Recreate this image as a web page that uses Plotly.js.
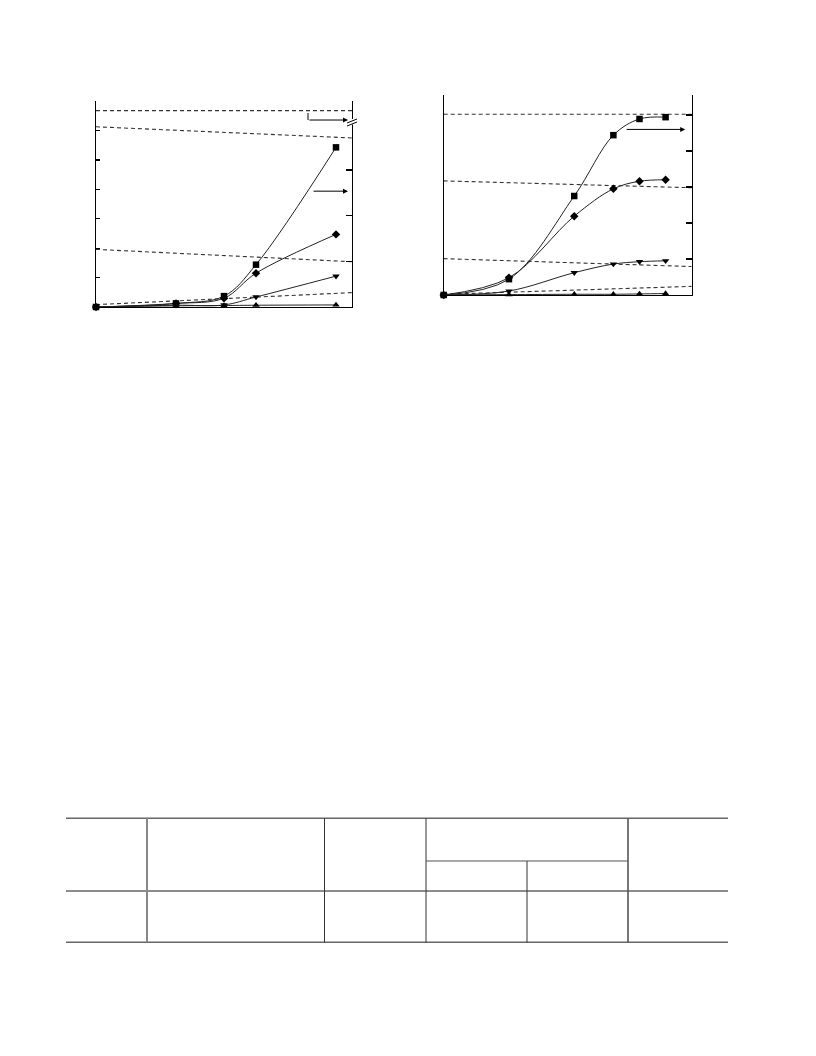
<!DOCTYPE html>
<html>
<head>
<meta charset="utf-8">
<script src="https://cdn.plot.ly/plotly-3.0.1.min.js"></script>
<style>html,body{margin:0;padding:0;background:#fff;}#chart{width:816px;height:1056px;}</style>
</head>
<body>
<div id="chart"></div>
<script>
// ---------- Panel 1 data ----------
var p1X = [0, 5, 8, 10, 15];
var p1Square = [0, 0.12, 0.37, 1.44, 5.43];
var p1Diamond = [0, 0.12, 0.30, 1.15, 2.47];
var p1TriDown = [0, 0.06, 0.07, 0.34, 1.05];
var p1TriUp = [0, 0.04, 0.05, 0.06, 0.07];
var p1DashX = [0, 16];
var p1DashA = [6.68, 6.68];
var p1DashB = [6.13, 5.75];
var p1DashC = [1.96, 1.54];
var p1DashD = [0.08, 0.49];

// ---------- Panel 2 data ----------
var p2X = [0, 5, 10, 13, 15, 17];
var p2Square = [0, 0.44, 2.75, 4.44, 4.89, 4.94];
var p2Diamond = [0, 0.48, 2.19, 2.95, 3.16, 3.20];
var p2TriDown = [0, 0.11, 0.62, 0.86, 0.925, 0.95];
var p2TriUp = [0, 0.01, 0.02, 0.02, 0.03, 0.04];
var p2DashX = [0, 19];
var p2DashA = [5.02, 5.02];
var p2DashB = [3.17, 2.98];
var p2DashC = [1.01, 0.79];
var p2DashD = [0.02, 0.24];

var W = 816, H = 1056;
function px(x){return x/W;}
function py(y){return 1 - y/H;}

var traces = [];
function series(x, y, sym, xa, ya){
  traces.push({x:x, y:y, xaxis:xa, yaxis:ya, type:'scatter', mode:'lines+markers',
    line:{color:'#222', width:1, shape:'spline', smoothing:1},
    marker:{symbol:sym, color:'#000', size:6.5}, showlegend:false, hoverinfo:'skip', cliponaxis:false});
}
function dash(x, y, xa, ya){
  traces.push({x:x, y:y, xaxis:xa, yaxis:ya, type:'scatter', mode:'lines',
    line:{color:'#333', width:1.1, dash:'4px,3px'}, showlegend:false, hoverinfo:'skip'});
}
dash(p1DashX, p1DashA, 'x', 'y');
dash(p1DashX, p1DashB, 'x', 'y');
dash(p1DashX, p1DashC, 'x', 'y');
dash(p1DashX, p1DashD, 'x', 'y');
series(p1X, p1Square, 'square', 'x', 'y');
series(p1X, p1Diamond, 'diamond', 'x', 'y');
series(p1X, p1TriDown, 'triangle-down', 'x', 'y');
series(p1X, p1TriUp, 'triangle-up', 'x', 'y');

dash(p2DashX, p2DashA, 'x3', 'y3');
dash(p2DashX, p2DashB, 'x3', 'y3');
dash(p2DashX, p2DashC, 'x3', 'y3');
dash(p2DashX, p2DashD, 'x3', 'y3');
series(p2X, p2Square, 'square', 'x3', 'y3');
series(p2X, p2Diamond, 'diamond', 'x3', 'y3');
series(p2X, p2TriDown, 'triangle-down', 'x3', 'y3');
series(p2X, p2TriUp, 'triangle-up', 'x3', 'y3');
// dummy traces so right axes render
traces.push({x:[0], y:[0], xaxis:'x', yaxis:'y2', mode:'markers', marker:{opacity:0}, showlegend:false, hoverinfo:'skip'});
traces.push({x:[0], y:[0], xaxis:'x3', yaxis:'y4', mode:'markers', marker:{opacity:0}, showlegend:false, hoverinfo:'skip'});

var axBase = {showgrid:false, zeroline:false, showticklabels:false, linecolor:'#000', linewidth:1.2, fixedrange:true};

var layout = {
  width:W, height:H, margin:{l:0, r:0, t:0, b:0},
  paper_bgcolor:'#fff', plot_bgcolor:'rgba(0,0,0,0)',
  xaxis: Object.assign({}, axBase, {domain:[px(96), px(352)], range:[0,16], showline:true, ticks:'', anchor:'y'}),
  yaxis: Object.assign({}, axBase, {domain:[py(307), py(101)], range:[0, 7.007], showline:true, ticks:'inside', ticklen:4, tickcolor:'#000', tickwidth:1.2, tickvals:[0,1,2,3,4,5,6,7], anchor:'x'}),
  yaxis2: Object.assign({}, axBase, {domain:[py(307), py(101)], range:[0, 4.51], overlaying:'y', side:'right', anchor:'x', showline:true, ticks:'inside', ticklen:6, tickcolor:'#000', tickwidth:1.2, tickvals:[1,2,3]}),
  xaxis3: Object.assign({}, axBase, {domain:[px(443.7), px(691.7)], range:[0,19], showline:true, ticks:'', anchor:'y3'}),
  yaxis3: Object.assign({}, axBase, {domain:[py(295), py(95)], range:[0, 5.556], showline:true, ticks:'', anchor:'x3'}),
  yaxis4: Object.assign({}, axBase, {domain:[py(295), py(95)], range:[0, 5.556], overlaying:'y3', side:'right', anchor:'x3', showline:true, ticks:'inside', ticklen:6, tickcolor:'#000', tickwidth:1.2, tickvals:[1,2,3,4,5]}),
  annotations: [
    {x:15.75, y:6.36, ax:13.25, ay:6.36, xref:'x', yref:'y', axref:'x', ayref:'y', showarrow:true, arrowhead:2, arrowsize:1, arrowwidth:1, arrowcolor:'#000', text:''},
    {x:15.75, y:3.94, ax:13.5, ay:3.94, xref:'x', yref:'y', axref:'x', ayref:'y', showarrow:true, arrowhead:2, arrowsize:1, arrowwidth:1, arrowcolor:'#000', text:''},
    {x:18.5, y:4.6, ax:13.9, ay:4.6, xref:'x3', yref:'y3', axref:'x3', ayref:'y3', showarrow:true, arrowhead:2, arrowsize:1, arrowwidth:1, arrowcolor:'#000', text:''}
  ],
  shapes: []
};

var S = layout.shapes;
// elbow of arrow in panel 1
S.push({type:'line', xref:'x', yref:'y', x0:13.25, x1:13.25, y0:6.6, y1:6.36, line:{color:'#000', width:1}});
// axis break on right axis of panel 1
S.push({type:'rect', xref:'paper', yref:'paper', x0:px(350), x1:px(355), y0:py(124.5), y1:py(119), fillcolor:'#fff', line:{width:0}});
S.push({type:'line', xref:'paper', yref:'paper', x0:px(347), x1:px(357), y0:py(123), y1:py(119), line:{color:'#000', width:1}});
S.push({type:'line', xref:'paper', yref:'paper', x0:px(347), x1:px(357), y0:py(126), y1:py(122), line:{color:'#000', width:1}});

// table frame
var tL = 66, tR = 728;
var hLines = [[818.3, tL, tR, '#666', 1.6], [891, tL, tR, '#666', 1.6], [942.3, tL, tR, '#666', 1.6], [861, 426, 628, '#555', 1.2]];
hLines.forEach(function(h){
  S.push({type:'line', xref:'paper', yref:'paper', x0:px(h[1]), x1:px(h[2]), y0:py(h[0]), y1:py(h[0]), line:{color:h[3], width:h[4]}});
});
var vLines = [[147, 818.3, 942.3, '#888', 2], [324.5, 818.3, 942.3, '#333', 1], [426, 818.3, 942.3, '#333', 1], [527, 861, 942.3, '#333', 1], [628, 818.3, 942.3, '#555', 1.6]];
vLines.forEach(function(v){
  S.push({type:'line', xref:'paper', yref:'paper', x0:px(v[0]), x1:px(v[0]), y0:py(v[1]), y1:py(v[2]), line:{color:v[3], width:v[4]}});
});

Plotly.newPlot('chart', traces, layout, {staticPlot:true, displayModeBar:false});
</script>
</body>
</html>
